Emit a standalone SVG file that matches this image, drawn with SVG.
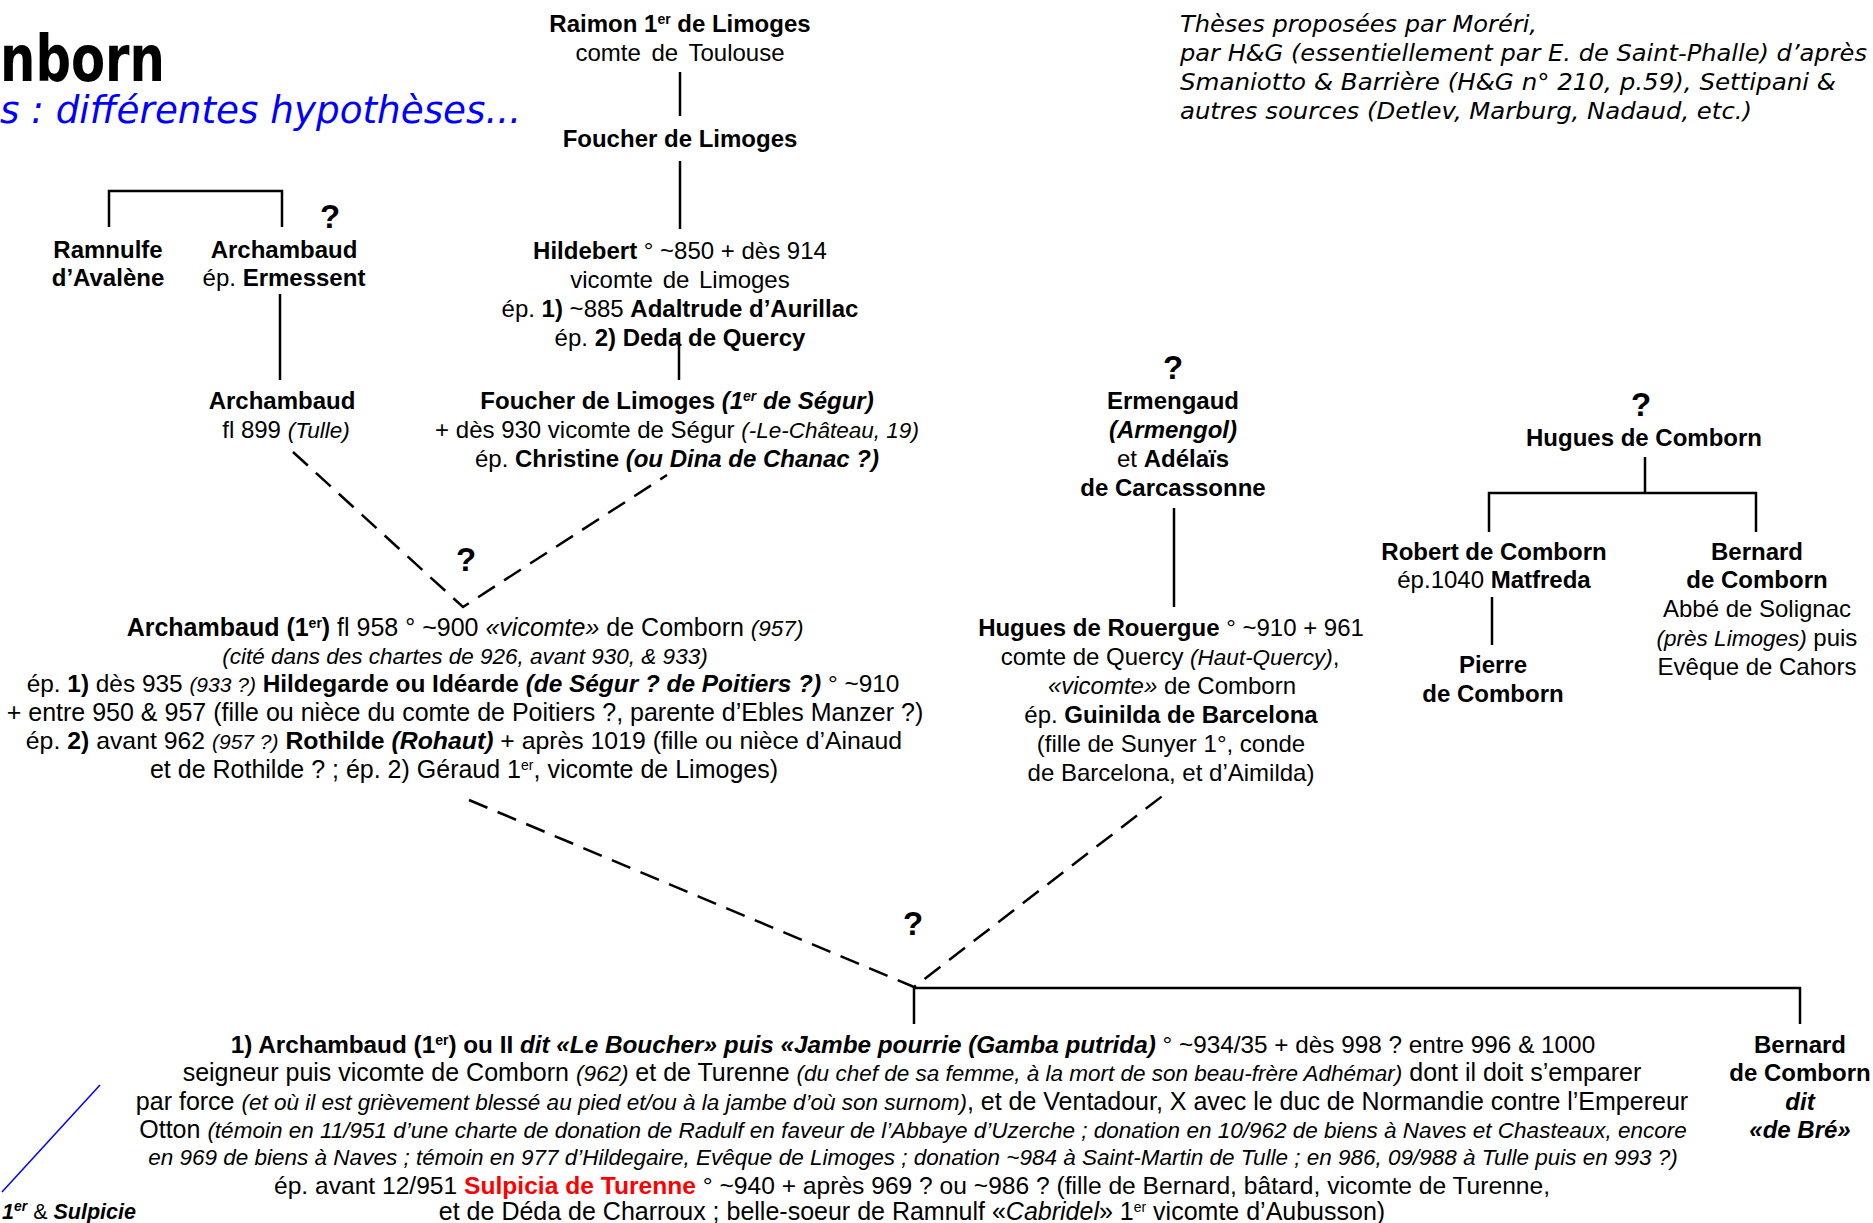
<svg xmlns="http://www.w3.org/2000/svg" width="1873" height="1223" viewBox="0 0 1873 1223">
<style>
text{font-family:"Liberation Sans",Arial,sans-serif;font-size:24px;fill:#000;text-anchor:middle}
#archambaud1 text,#archambaud2 text{font-size:25px}
.b{font-weight:bold}
.i{font-style:italic}
.s{font-size:22.5px}
.sup{font-size:14px;baseline-shift:super}
.q{font-size:33px;font-weight:bold}
.v{font-family:"DejaVu Sans",Verdana,sans-serif;text-anchor:start}
.red{fill:#FF0000}
.ln{stroke:#000;stroke-width:2.5;fill:none}
.dash{stroke:#000;stroke-width:2.5;fill:none;stroke-dasharray:20 11}
</style>
<rect width="1873" height="1223" fill="#fff"/>

<g id="title">
<text class="v b" x="0" y="81" style="font-size:64px" textLength="165" lengthAdjust="spacingAndGlyphs">nborn</text>
<text class="v i" x="0" y="123" style="font-size:37px;fill:#0000FF" textLength="521" lengthAdjust="spacingAndGlyphs">s : différentes hypothèses...</text>
</g>

<g id="sources">
<text class="v i" x="1180" y="32" style="font-size:23px" textLength="357" lengthAdjust="spacingAndGlyphs">Thèses proposées par Moréri,</text>
<text class="v i" x="1180" y="61" style="font-size:23px" textLength="687" lengthAdjust="spacingAndGlyphs">par H&amp;G (essentiellement par E. de Saint-Phalle) d’après</text>
<text class="v i" x="1180" y="90" style="font-size:23px" textLength="656" lengthAdjust="spacingAndGlyphs">Smaniotto &amp; Barrière (H&amp;G n° 210, p.59), Settipani &amp;</text>
<text class="v i" x="1180" y="119" style="font-size:23px" textLength="572" lengthAdjust="spacingAndGlyphs">autres sources (Detlev, Marburg, Nadaud, etc.)</text>
</g>

<g id="connectors">
<line class="ln" x1="680" y1="72" x2="680" y2="116"/>
<line class="ln" x1="680" y1="161" x2="680" y2="229"/>
<line class="ln" x1="679" y1="332" x2="679" y2="380"/>
<path class="ln" d="M109,227 V191 H282 V227"/>
<line class="ln" x1="280" y1="294" x2="280" y2="380"/>
<path class="dash" d="M293,452 L463,607 L667,475"/>
<line class="ln" x1="1174" y1="508" x2="1174" y2="607"/>
<line class="ln" x1="1645" y1="457" x2="1645" y2="493"/>
<path class="ln" d="M1489,532 V493 H1756 V532"/>
<line class="ln" x1="1492" y1="597" x2="1492" y2="645"/>
<path class="dash" d="M469,800 L914,987 L1165,794"/>
<path class="ln" d="M914,1024 V988 H1800 V1024"/>
<line x1="100" y1="1085" x2="2" y2="1192" stroke="#0000FF" stroke-width="1.5"/>
</g>

<g id="q-marks">
<text class="q" x="330" y="228">?</text>
<text class="q" x="466" y="571">?</text>
<text class="q" x="1173" y="379">?</text>
<text class="q" x="1641" y="416">?</text>
<text class="q" x="913" y="935">?</text>
</g>

<g id="raimon">
<text x="680" y="32"><tspan class="b">Raimon 1<tspan class="sup">er</tspan> de Limoges</tspan></text>
<text x="680" y="61" word-spacing="4">comte de Toulouse</text>
</g>

<g id="foucher1">
<text class="b" x="680" y="147">Foucher de Limoges</text>
</g>

<g id="hildebert">
<text x="680" y="259"><tspan class="b">Hildebert</tspan> ° ~850 + dès 914</text>
<text x="680" y="288" word-spacing="3">vicomte de Limoges</text>
<text x="680" y="317">ép. <tspan class="b">1)</tspan> ~885 <tspan class="b">Adaltrude d’Aurillac</tspan></text>
<text x="680" y="346">ép. <tspan class="b">2) Deda de Quercy</tspan></text>
</g>

<g id="foucher2">
<text x="677" y="409"><tspan class="b">Foucher de Limoges <tspan class="i">(1<tspan class="sup">er</tspan> de Ségur)</tspan></tspan></text>
<text x="677" y="438">+ dès 930 vicomte de Ségur <tspan class="i s">(-Le-Château, 19)</tspan></text>
<text x="677" y="467">ép. <tspan class="b">Christine <tspan class="i">(ou Dina de Chanac ?)</tspan></tspan></text>
</g>

<g id="ramnulfe">
<text class="b" x="108" y="258">Ramnulfe</text>
<text class="b" x="108" y="286">d’Avalène</text>
</g>

<g id="archambaud0">
<text class="b" x="284" y="258">Archambaud</text>
<text x="284" y="286">ép. <tspan class="b">Ermessent</tspan></text>
</g>

<g id="archambaud899">
<text class="b" x="282" y="409">Archambaud</text>
<text x="286" y="438">fl 899 <tspan class="i s">(Tulle)</tspan></text>
</g>

<g id="archambaud1">
<text x="465" y="636"><tspan class="b">Archambaud (1<tspan class="sup">er</tspan>)</tspan> fl 958 ° ~900 <tspan class="i">«vicomte»</tspan> de Comborn <tspan class="i s">(957)</tspan></text>
<text x="465" y="664"><tspan class="i s">(cité dans des chartes de 926, avant 930,  &amp; 933)</tspan></text>
<text x="463" y="692" style="font-size:24.4px">ép. <tspan class="b">1)</tspan> dès 935 <tspan class="i" style="font-size:21px">(933 ?)</tspan> <tspan class="b">Hildegarde ou Idéarde <tspan class="i">(de Ségur ? de Poitiers ?)</tspan></tspan> ° ~910</text>
<text x="465" y="721">+ entre 950 &amp; 957 (fille ou nièce du comte de Poitiers ?, parente d’Ebles Manzer ?)</text>
<text x="464" y="749" style="font-size:24.8px">ép. <tspan class="b">2)</tspan> avant 962 <tspan class="i" style="font-size:21px">(957 ?)</tspan> <tspan class="b">Rothilde <tspan class="i">(Rohaut)</tspan></tspan> + après 1019  (fille ou nièce d’Ainaud</text>
<text x="464" y="778">et de Rothilde ? ; ép. 2) Géraud 1<tspan class="sup">er</tspan>, vicomte de Limoges)</text>
</g>

<g id="ermengaud">
<text class="b" x="1173" y="409">Ermengaud</text>
<text class="b i" x="1173" y="438">(Armengol)</text>
<text x="1173" y="467">et <tspan class="b">Adélaïs</tspan></text>
<text class="b" x="1173" y="496">de Carcassonne</text>
</g>

<g id="hugues-rouergue">
<text x="1171" y="636"><tspan class="b">Hugues de Rouergue</tspan> ° ~910 + 961</text>
<text x="1170" y="665">comte de Quercy <tspan class="i s">(Haut-Quercy)</tspan>,</text>
<text x="1172" y="694"><tspan class="i">«vicomte»</tspan> de Comborn</text>
<text x="1171" y="723">ép. <tspan class="b">Guinilda de Barcelona</tspan></text>
<text x="1171" y="752">(fille de Sunyer 1°, conde</text>
<text x="1171" y="781">de Barcelona, et d’Aimilda)</text>
</g>

<g id="hugues-comborn">
<text class="b" x="1644" y="446">Hugues de Comborn</text>
</g>

<g id="robert">
<text class="b" x="1494" y="560">Robert de Comborn</text>
<text x="1494" y="588">ép.1040 <tspan class="b">Matfreda</tspan></text>
</g>

<g id="pierre">
<text class="b" x="1493" y="673">Pierre</text>
<text class="b" x="1493" y="702">de Comborn</text>
</g>

<g id="bernard-abbe">
<text class="b" x="1757" y="560">Bernard</text>
<text class="b" x="1757" y="588">de Comborn</text>
<text x="1757" y="617">Abbé de Solignac</text>
<text x="1757" y="646"><tspan class="i s">(près Limoges)</tspan> puis</text>
<text x="1757" y="675">Evêque de Cahors</text>
</g>

<g id="archambaud2">
<text x="913" y="1053" style="font-size:24.3px"><tspan class="b">1) Archambaud (1<tspan class="sup">er</tspan>) ou II </tspan><tspan class="b i">dit «Le Boucher» puis «Jambe pourrie (Gamba putrida)</tspan> ° ~934/35 + dès 998 ? entre 996 &amp; 1000</text>
<text x="912" y="1081">seigneur puis vicomte de Comborn <tspan class="i s">(962)</tspan> et de Turenne <tspan class="i s">(du chef de sa femme, à la mort de son beau-frère Adhémar)</tspan> dont il doit s’emparer</text>
<text x="912" y="1110">par force <tspan class="i s">(et où il est grièvement blessé au pied et/ou à la jambe d’où son surnom)</tspan>, et de Ventadour, X avec le duc de Normandie contre l’Empereur</text>
<text x="913" y="1138">Otton <tspan class="i s">(témoin en 11/951 d’une charte de donation de Radulf en faveur de l’Abbaye d’Uzerche ; donation en 10/962 de biens à Naves et Chasteaux, encore</tspan></text>
<text x="913" y="1165"><tspan class="i s">en 969 de biens à Naves ; témoin en 977 d’Hildegaire, Evêque de Limoges ; donation ~984 à Saint-Martin de Tulle ;  en 986, 09/988 à Tulle puis en 993 ?)</tspan></text>
<text x="912" y="1194" style="font-size:24.6px">ép. avant 12/951 <tspan class="b red">Sulpicia de Turenne</tspan> ° ~940 + après 969 ? ou ~986 ? (fille de Bernard, bâtard, vicomte de Turenne,</text>
<text x="912" y="1220">et de Déda de Charroux ; belle-soeur de Ramnulf «<tspan class="i">Cabridel</tspan>» 1<tspan class="sup">er</tspan> vicomte d’Aubusson)</text>
</g>

<g id="bernard-bre">
<text class="b" x="1800" y="1053">Bernard</text>
<text class="b" x="1800" y="1081">de Comborn</text>
<text class="b i" x="1800" y="1110">dit</text>
<text class="b i" x="1800" y="1138">«de Bré»</text>
</g>

<g id="sulpicie">
<text x="2" y="1219" style="text-anchor:start;font-size:21.5px"><tspan class="b i">1<tspan class="sup">er</tspan></tspan> &amp; <tspan class="b i">Sulpicie</tspan></text>
</g>
</svg>
